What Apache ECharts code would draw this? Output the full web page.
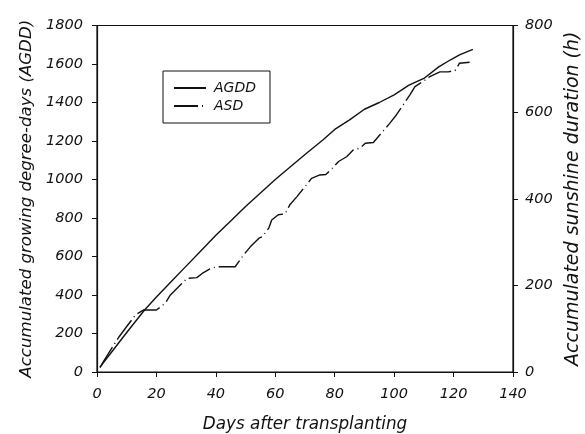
<!DOCTYPE html>
<html><head><meta charset="utf-8">
<script src="https://cdn.jsdelivr.net/npm/echarts@6/dist/echarts.min.js"></script>
<style>html,body{margin:0;padding:0;background:#fff}#c{width:585px;height:434px}</style>
</head><body><div id="c"></div>
<script>
// AGDD (left axis)
const agddDays = [1, 5, 10, 16, 20, 25, 30, 35, 40, 45, 50, 55, 60, 65, 70, 76, 80, 85, 90, 95, 100, 105, 110, 115, 119, 122, 126.5];
const agddValues = [25, 105, 205, 322, 390, 470, 550, 630, 710, 785, 860, 930, 1000, 1065, 1130, 1205, 1260, 1310, 1365, 1400, 1440, 1490, 1525, 1585, 1622, 1647, 1676];
// ASD (right axis)
const asdDays = [1, 2, 5.6, 7.5, 10, 13, 15.6, 20, 23, 24.7, 30.3, 33.6, 35.7, 38, 40.3, 46.5, 49.3, 51.6, 54.5, 55.6, 57.8, 58.8, 61, 63.3, 64.9, 67.3, 70, 72.2, 75, 77, 79.1, 81.3, 84, 86.3, 88.6, 90.3, 93, 98.5, 100.8, 105.3, 107, 110, 112, 115.4, 118.2, 120.5, 122, 125.4];
const asdValues = [10, 22, 62, 82, 105, 132, 143, 143, 159, 178, 216, 218, 229, 238, 243, 243, 270, 289, 309, 312, 332, 351, 363, 365, 386, 405, 428, 447, 455, 456, 470, 486, 497, 513, 517, 528, 530, 574, 594, 640, 659, 672, 682, 693, 693, 696, 713, 715];

const xTicks = [0, 20, 40, 60, 80, 100, 120, 140];
const leftTicks = [0, 200, 400, 600, 800, 1000, 1200, 1400, 1600, 1800];
const rightTicks = [0, 200, 400, 600, 800];

const FONT = 'DejaVu Sans';
const plain = v => String(v);
const axisCommon = {
  axisLine: {show: true, lineStyle: {color: '#111', width: 1.2}},
  axisTick: {show: true, inside: false, length: 5, lineStyle: {color: '#111', width: 1}},
  splitLine: {show: false},
  axisLabel: {color: '#111', fontFamily: FONT, fontStyle: 'italic', fontSize: 14.5, formatter: plain},
  nameTextStyle: {color: '#111', fontFamily: FONT, fontStyle: 'italic'}
};

const chart = echarts.init(document.getElementById('c'), null, {renderer: 'canvas'});
chart.setOption({
  animation: false,
  backgroundColor: '#fff',
  grid: {left: 97, right: 72, top: 25.5, bottom: 62, show: true, borderColor: '#111', borderWidth: 1.2,
         containLabel: false, outerBoundsMode: 'none'},
  legend: {
    orient: 'vertical', left: 163, top: 71,
    borderColor: '#111', borderWidth: 1, padding: [10, 14, 10, 10],
    itemWidth: 32, itemHeight: 14, itemGap: 4,
    itemStyle: {opacity: 0},
    textStyle: {fontFamily: FONT, fontStyle: 'italic', fontSize: 14, color: '#111', padding: [0, 0, 0, 3]},
    data: ['AGDD', 'ASD']
  },
  xAxis: Object.assign({}, axisCommon, {
    type: 'value', min: xTicks[0], max: xTicks[xTicks.length - 1], interval: 20,
    axisLabel: Object.assign({}, axisCommon.axisLabel, {margin: 15}),
    name: 'Days after transplanting', nameLocation: 'middle', nameGap: 44,
    nameTextStyle: Object.assign({}, axisCommon.nameTextStyle, {fontSize: 16.8})
  }),
  yAxis: [
    Object.assign({}, axisCommon, {
      type: 'value', min: leftTicks[0], max: leftTicks[leftTicks.length - 1], interval: 200,
      axisLabel: Object.assign({}, axisCommon.axisLabel, {margin: 14}),
      name: 'Accumulated growing degree-days (AGDD)', nameLocation: 'middle', nameGap: 61,
      nameTextStyle: Object.assign({}, axisCommon.nameTextStyle, {fontSize: 16.6})
    }),
    Object.assign({}, axisCommon, {
      type: 'value', position: 'right', min: rightTicks[0], max: rightTicks[rightTicks.length - 1], interval: 200,
      axisLabel: Object.assign({}, axisCommon.axisLabel, {margin: 12}),
      name: 'Accumulated sunshine duration (h)', nameLocation: 'middle', nameGap: 50,
      nameTextStyle: Object.assign({}, axisCommon.nameTextStyle, {fontSize: 19})
    })
  ],
  series: [
    {
      name: 'AGDD', type: 'line', yAxisIndex: 0, symbol: 'none', smooth: false,
      lineStyle: {color: '#111', width: 1.4},
      itemStyle: {color: '#111'},
      data: agddDays.map((d, i) => [d, agddValues[i]])
    },
    {
      name: 'ASD', type: 'line', yAxisIndex: 1, symbol: 'none', smooth: false,
      lineStyle: {color: '#111', width: 1.4, type: [24, 4, 1, 4]},
      itemStyle: {color: '#111'},
      data: asdDays.map((d, i) => [d, asdValues[i]])
    }
  ]
});
</script>
</body></html>
